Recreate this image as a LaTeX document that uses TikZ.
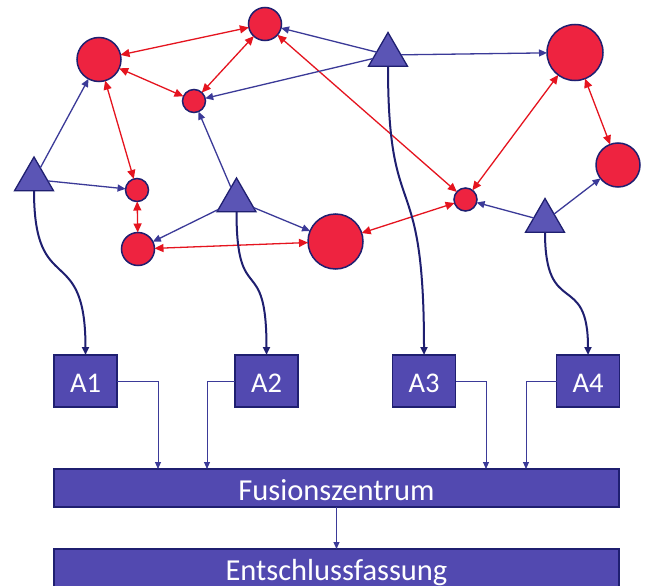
\documentclass[tikz,border=0pt]{standalone}
\usepackage{fontspec}
\setmainfont{Carlito}
\usetikzlibrary{arrows.meta,shapes.geometric}
\definecolor{redfill}{HTML}{EE2340}
\definecolor{navy}{HTML}{1F1F70}
\definecolor{trifill}{HTML}{5B55B5}
\definecolor{boxfill}{HTML}{5249B0}
\definecolor{blueline}{HTML}{3B3A98}
\definecolor{redline}{HTML}{E5141F}
\begin{document}
\begin{tikzpicture}[x=1pt,y=-1pt,
  circ/.style={circle, draw=navy, line width=1.5pt, fill=redfill, inner sep=0pt, outer sep=0pt},
  tri/.style={regular polygon, regular polygon sides=3, draw=navy, line width=1.3pt, fill=trifill, minimum size=45pt, inner sep=0pt, outer sep=0pt},
  abox/.style={rectangle, draw=navy, line width=1.3pt, fill=boxfill, minimum width=63pt, minimum height=52pt, inner sep=0pt, outer sep=0pt, text=white, font=\fontsize{28.5}{30}\selectfont, text height=22pt, text depth=0pt},
  bar/.style={rectangle, draw=navy, line width=1.3pt, fill=boxfill, minimum width=565pt, minimum height=38pt, inner sep=0pt, outer sep=0pt, text=white, font=\fontsize{30.5}{32}\selectfont, text height=24pt, text depth=0pt},
  blink/.style={blueline, line width=1.3pt, -{Triangle[length=8pt,width=7pt]}},
  rlink/.style={redline, line width=1.3pt, {Triangle[length=9pt,width=8pt]}-{Triangle[length=9pt,width=8pt]}},
  curv/.style={navy, line width=2pt, -{Triangle[length=8pt,width=7pt]}},
  flink/.style={blueline, line width=0.9pt, -{Triangle[length=7pt,width=6pt]}}
]
\useasboundingbox[fill=white] (0,0) rectangle (645,586);

% circles
\node[circ, minimum size=44pt] (C1) at (99,59.5) {};
\node[circ, minimum size=33pt] (C2) at (265,24) {};
\node[circ, minimum size=23pt] (C3) at (194,101) {};
\node[circ, minimum size=23pt] (C4) at (137,190) {};
\node[circ, minimum size=33pt] (C5) at (138,249) {};
\node[circ, minimum size=55pt] (C6) at (335.5,241.5) {};
\node[circ, minimum size=23pt] (C7) at (465.5,199.5) {};
\node[circ, minimum size=56pt] (C8) at (575,52.5) {};
\node[circ, minimum size=44pt] (C9) at (618,165) {};

% triangles
\node[tri] (T1) at (34,179.5) {};
\node[tri] (T2) at (236.5,200.5) {};
\node[tri] (T3) at (388,55) {};
\node[tri] (T4) at (545,221) {};

% boxes
\node[abox] (A1) at (85.5,381) {A1};
\node[abox] (A2) at (266.5,381) {A2};
\node[abox] (A3) at (424,381) {A3};
\node[abox] (A4) at (588,381) {A4};
\node[bar] (fus) at (336.5,488) {Fusionszentrum};
\node[bar] (ent) at (336.5,568) {Entschlussfassung};

% red links
\draw[rlink] (C1) -- (C2);
\draw[rlink] (C1) -- (C3);
\draw[rlink] (C1) -- (C4);
\draw[rlink] (C2) -- (C3);
\draw[rlink] (C2) -- (C7);
\draw[rlink] (C4) -- (C5);
\draw[rlink] (C5) -- (C6);
\draw[rlink] (C6) -- (C7);
\draw[rlink] (C7) -- (C8);
\draw[rlink] (C8) -- (C9);

% blue links
\draw[blink] (T1) -- (C1);
\draw[blink] (T1) -- (C4);
\draw[blink] (T2) -- (C3);
\draw[blink] (T2) -- (C5);
\draw[blink] (T2) -- (C6);
\draw[blink] (T3) -- (C2);
\draw[blink] (T3) -- (C3);
\draw[blink] (T3) -- (C8);
\draw[blink] (T4) -- (C7);
\draw[blink] (T4) -- (C9);

% curves to boxes
\draw[curv] (T1.south) .. controls +(0,109) and +(0,-115) .. (A1.north);
\draw[curv] (T2.south) .. controls +(0,98) and +(0,-105) .. (A2.north);
\draw[curv] (T3.south) .. controls +(0,164) and +(0,-195) .. (A3.north);
\draw[curv] (T4.south) .. controls +(0,87) and +(0,-85) .. (A4.north);

% box to fusion
\path (fus.north west) ++(104,0) coordinate (f1);
\path (fus.north west) ++(153,0) coordinate (f2);
\path (fus.north west) ++(432,0) coordinate (f3);
\path (fus.north west) ++(472,0) coordinate (f4);
\draw[flink] (A1.east) -| (f1);
\draw[flink] (A2.west) -| (f2);
\draw[flink] (A3.east) -| (f3);
\draw[flink] (A4.west) -| (f4);
\draw[flink] (fus.south) -- (ent.north);
\end{tikzpicture}
\end{document}
